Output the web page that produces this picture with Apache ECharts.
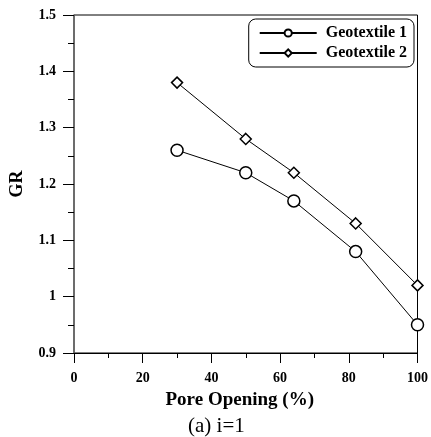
<!DOCTYPE html>
<html>
<head>
<meta charset="utf-8">
<script src="https://cdn.jsdelivr.net/npm/echarts@6/dist/echarts.min.js"></script>
<style>html,body{margin:0;padding:0;background:#fff;}#c{width:431px;height:437px;}</style>
</head>
<body>
<div id="c"></div>
<script>
var poreOpening = [30, 50, 64, 82, 100];
var geotextile1 = [1.26, 1.22, 1.17, 1.08, 0.95];
var geotextile2 = [1.38, 1.28, 1.22, 1.13, 1.02];
var seriesNames = ['Geotextile 1', 'Geotextile 2'];
var xTitle = 'Pore Opening (%)';
var yTitle = 'GR';
var caption = '(a) i=1';

var FONT = '"Liberation Serif", "Times New Roman", serif';
function pairs(xs, ys) { return xs.map(function (x, i) { return [x, ys[i]]; }); }

var chart = echarts.init(document.getElementById('c'), null, { renderer: 'canvas' });
chart.setOption({
  backgroundColor: '#fff',
  animation: false,
  grid: { left: 68, right: 11, top: 15, bottom: 84, show: true, borderColor: '#000', borderWidth: 1, backgroundColor: 'transparent' },
  title: {
    text: caption, left: 183, top: 411,
    textStyle: { fontFamily: FONT, fontWeight: 'normal', fontSize: 21, color: '#000' }
  },
  legend: {
    right: 17, top: 19,
    orient: 'vertical',
    itemWidth: 57, itemHeight: 9, itemGap: 4,
    padding: [6, 7, 6, 10],
    borderColor: '#000', borderWidth: 1, borderRadius: 7,
    textStyle: { fontFamily: FONT, fontWeight: 'bold', fontSize: 16, color: '#000', padding: [0, 0, 0, 4] },
    data: seriesNames
  },
  xAxis: {
    type: 'value', min: 0, max: 100, interval: 20,
    name: xTitle, nameLocation: 'middle', nameGap: 38,
    nameTextStyle: { fontFamily: FONT, fontWeight: 'bold', fontSize: 19, color: '#000', padding: [0, 12, 0, 0] },
    axisLine: { show: true, lineStyle: { color: '#000', width: 1 } },
    axisTick: { show: true, inside: false, length: 10, lineStyle: { color: '#000' } },
    minorTick: { show: true, splitNumber: 2, length: 5, lineStyle: { color: '#000' } },
    splitLine: { show: false },
    axisLabel: { fontFamily: FONT, fontWeight: 'bold', fontSize: 14, color: '#000', margin: 18 }
  },
  yAxis: {
    type: 'value', min: 0.9, max: 1.5, interval: 0.1,
    name: yTitle, nameLocation: 'middle', nameGap: 48, nameRotate: 90,
    nameTextStyle: { fontFamily: FONT, fontWeight: 'bold', fontSize: 18, color: '#000' },
    axisLine: { show: true, lineStyle: { color: '#666', width: 1.5 } },
    axisTick: { show: true, inside: false, length: 11, lineStyle: { color: '#000' } },
    minorTick: { show: true, splitNumber: 2, length: 6, lineStyle: { color: '#000' } },
    splitLine: { show: false },
    axisLabel: { fontFamily: FONT, fontWeight: 'bold', fontSize: 14, color: '#000', margin: 18,
      formatter: function (v) { return String(Math.round(v * 10) / 10); } }
  },
  series: [
    {
      name: seriesNames[0], type: 'line', data: pairs(poreOpening, geotextile1),
      symbol: 'circle', symbolSize: 12,
      lineStyle: { color: '#000', width: 1 },
      itemStyle: { color: '#fff', borderColor: '#000', borderWidth: 1.5 }
    },
    {
      name: seriesNames[1], type: 'line', data: pairs(poreOpening, geotextile2),
      symbol: 'diamond', symbolSize: 11,
      lineStyle: { color: '#000', width: 1 },
      itemStyle: { color: '#fff', borderColor: '#000', borderWidth: 1.5 }
    }
  ]
});
</script>
</body>
</html>
